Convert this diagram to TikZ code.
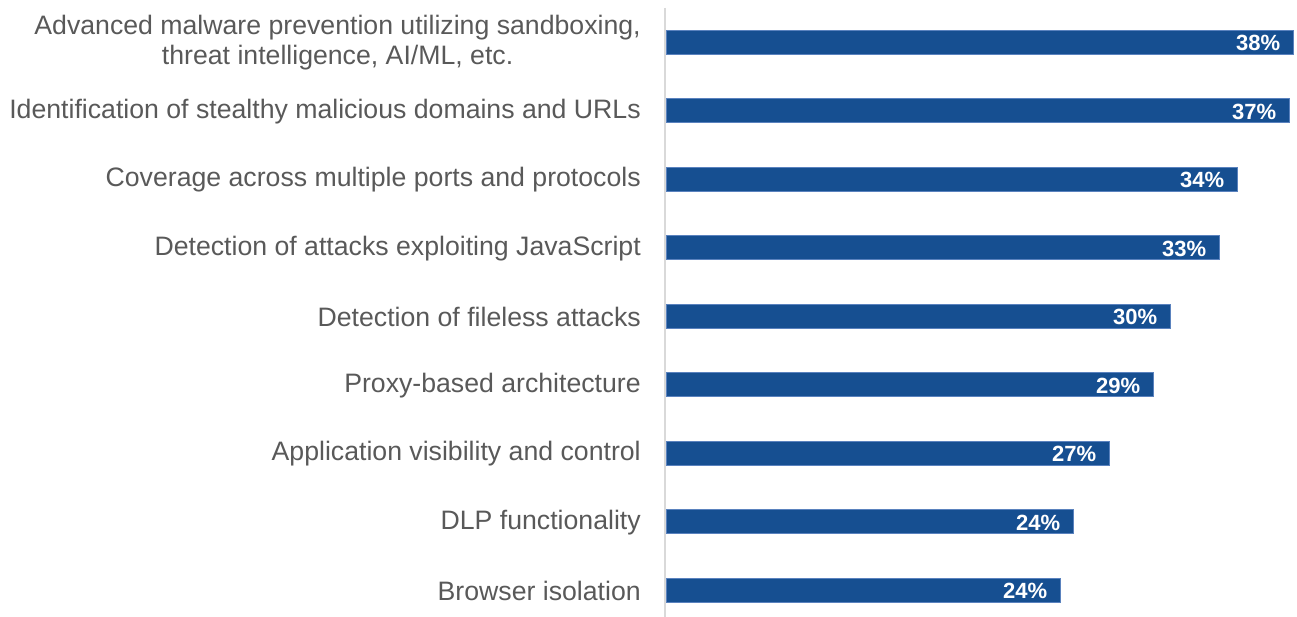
\documentclass[tikz,border=0pt]{standalone}
\usepackage{fontspec}
\setmainfont{Liberation Sans}
\definecolor{barblue}{RGB}{22,79,145}
\definecolor{baredge}{RGB}{90,130,190}
\definecolor{labelgray}{RGB}{89,89,89}
\definecolor{axisgray}{RGB}{217,217,217}
\begin{document}
\begin{tikzpicture}[x=0.75pt,y=-0.75pt,
  bar/.style={fill=barblue,draw=baredge,line width=0.4pt},
  catlabel/.style={anchor=east,inner sep=0pt,text=labelgray,align=center,
    font=\fontsize{20}{22.5}\selectfont},
  pct/.style={anchor=east,inner sep=0pt,text=white,
    font=\fontsize{16.5}{19}\selectfont\bfseries}]
\useasboundingbox (0,0) rectangle (1297,617);
\draw[axisgray,line width=1.5pt] (665,8) coordinate (axt) -- (665,617) coordinate (axb);
\foreach \i/\yc/\xe/\p/\lab in {
  1/42/1293/38\%/{Advanced malware prevention utilizing sandboxing,\\threat intelligence, AI/ML, etc.},
  2/110.5/1289/37\%/{Identification of stealthy malicious domains and URLs},
  3/179/1237/34\%/{Coverage across multiple ports and protocols},
  4/247.5/1219/33\%/{Detection of attacks exploiting JavaScript},
  5/316/1170/30\%/{Detection of fileless attacks},
  6/384.5/1153/29\%/{Proxy-based architecture},
  7/453/1109/27\%/{Application visibility and control},
  8/521.5/1073/24\%/{DLP functionality},
  9/590/1060/24\%/{Browser isolation}}{
  \path[bar] (666,\yc-12) rectangle (\xe,\yc+12);
  \coordinate (be\i) at (\xe,\yc);
  \node[pct] (p\i) at ([xshift=-9.5,yshift=-0.75]be\i) {\p};
  \node[catlabel] (l\i) at (641,\yc+1) {\lab};
}
\end{tikzpicture}
\end{document}
